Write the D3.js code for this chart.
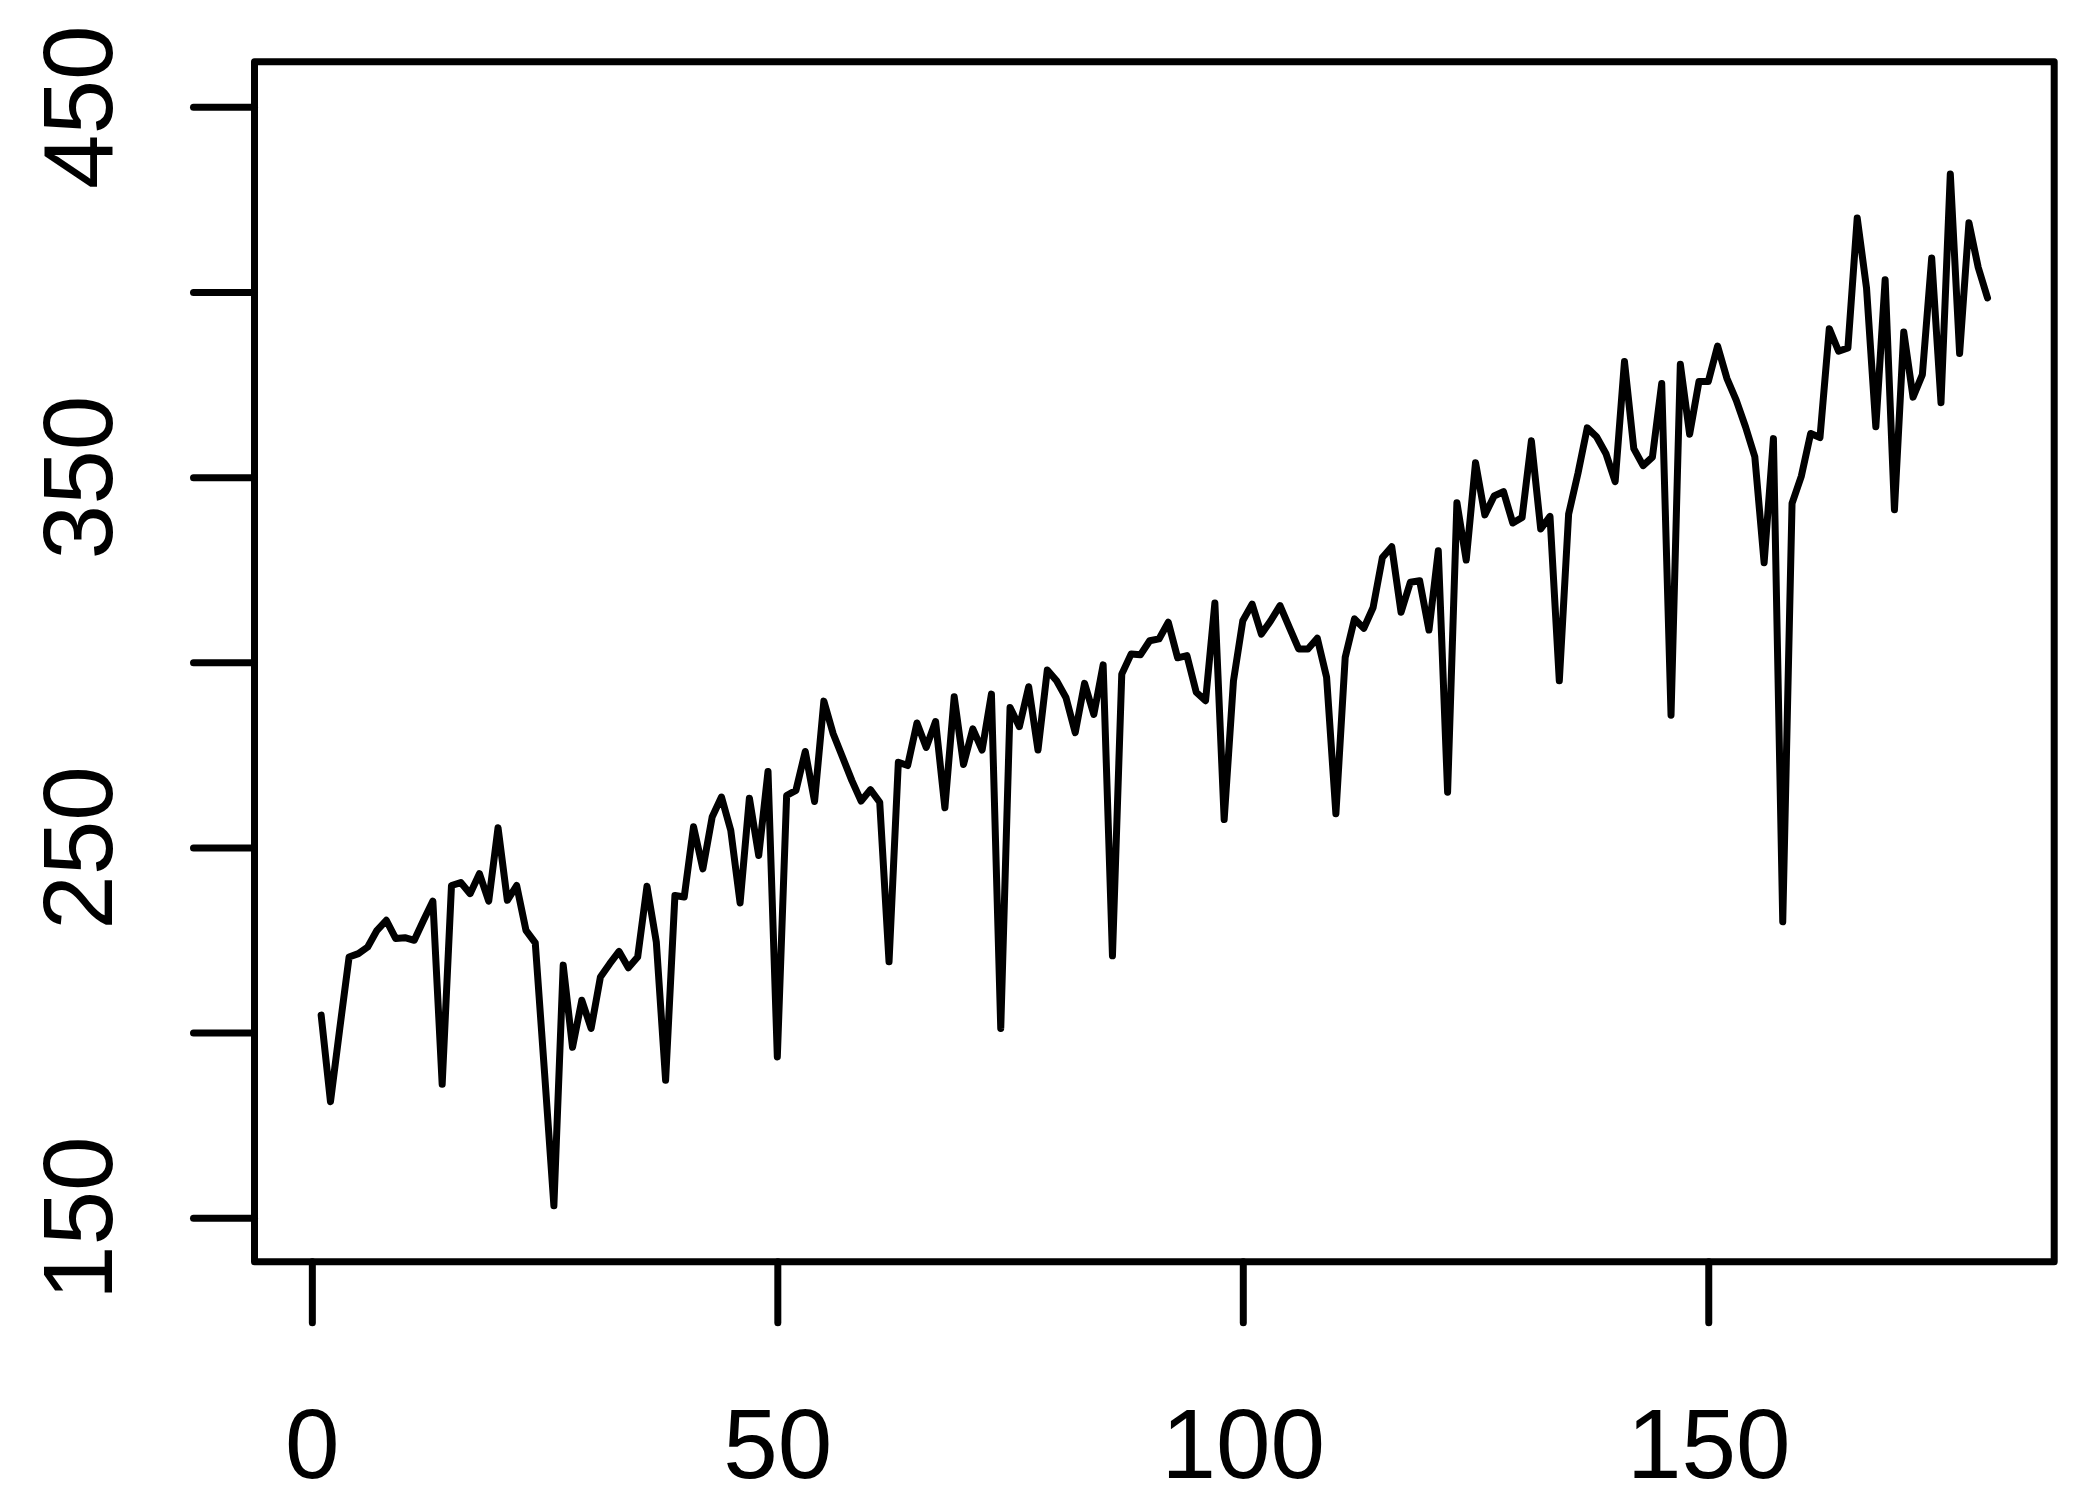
<!DOCTYPE html>
<html><head><meta charset="utf-8">
<script src="https://cdn.jsdelivr.net/npm/d3@7"></script>
<style>html,body{margin:0;padding:0;background:#fff;} svg{display:block;}</style>
</head><body>
<svg id="chart" width="2091" height="1510"></svg>
<script>
// Series values, index 1..180
const seriesValues = [
  204.7,181.3,201.1,220.4,221.3,223.1,227.6,230.3,225.4,225.6,
  224.9,230.3,235.5,186.0,239.7,240.5,237.5,242.9,235.5,255.3,
  235.7,239.7,227.6,224.2,189.0,153.2,218.2,196.0,208.7,201.1,
  215.0,218.6,221.9,217.5,220.4,239.5,224.5,187.1,237.0,236.6,
  255.6,244.2,258.2,263.6,254.6,235.0,263.3,247.8,270.5,193.4,
  264.0,265.4,275.9,262.4,289.5,280.7,274.4,268.1,262.5,265.6,
  262.2,219.1,273.0,272.1,283.6,277.0,284.0,260.7,290.7,272.4,
  282.0,276.3,291.4,201.1,287.8,282.6,293.4,276.3,297.9,295.0,
  290.5,281.0,294.3,285.9,299.3,220.7,296.8,302.2,302.0,305.8,
  306.3,310.8,301.2,301.8,291.9,289.6,316.0,257.5,295.0,311.2,
  315.7,307.6,311.2,315.3,309.4,303.6,303.6,306.5,296.0,259.1,
  301.3,311.7,309.2,314.8,328.3,331.2,313.5,321.6,322.0,308.7,
  330.1,264.9,343.1,327.6,353.9,339.8,344.9,346.1,337.6,339.1,
  359.8,336.0,339.4,295.0,340.0,351.0,363.3,360.9,356.4,348.8,
  381.2,357.7,353.1,355.4,375.3,285.7,380.5,361.6,375.8,375.8,
  385.4,376.7,370.8,363.6,355.5,326.9,360.4,229.9,342.9,350.3,
  361.8,360.7,390.1,384.0,384.9,420.0,401.1,363.6,403.3,341.2,
  389.2,371.6,377.7,409.2,370.1,431.9,383.4,418.7,406.6,398.4
];
const xTickValues = [0, 50, 100, 150];
const xTickLabels = ["0", "50", "100", "150"];
const yTickValues = [150, 200, 250, 300, 350, 400, 450];
const yTickLabels = ["150", "", "250", "", "350", "", "450"];

const svg = d3.select("#chart");
const n = seriesValues.length;
const xPad = (n - 1) * 0.04;
const x = d3.scaleLinear().domain([1 - xPad, n + xPad]).range([254.5, 2054.2]);
const y = d3.scaleLinear().domain([138.1, 462.2]).range([1261.7, 61.7]);

const lw = 7;
const font = "'Liberation Sans', Arial, Helvetica, sans-serif";

// data line
const line = d3.line().x((d, i) => x(i + 1)).y(d => y(d));
svg.append("path")
  .datum(seriesValues)
  .attr("d", line)
  .attr("fill", "none")
  .attr("stroke", "#000")
  .attr("stroke-width", lw)
  .attr("stroke-linejoin", "round")
  .attr("stroke-linecap", "round");

// box
const [bx0, bx1] = x.range();
const [by1, by0] = y.range();
svg.append("rect")
  .attr("x", bx0).attr("y", by0)
  .attr("width", bx1 - bx0).attr("height", by1 - by0)
  .attr("fill", "none").attr("stroke", "#000")
  .attr("stroke-width", lw).attr("stroke-linejoin", "round");

// x axis
const gx = svg.append("g").attr("transform", `translate(0,${by1})`)
  .call(d3.axisBottom(x).tickValues(xTickValues).tickSize(61)
    .tickFormat((d, i) => xTickLabels[i]));
gx.select(".domain").remove();
gx.selectAll(".tick line").attr("stroke", "#000").attr("stroke-width", lw).attr("stroke-linecap", "round");
gx.selectAll(".tick text")
  .attr("y", 216.5).attr("dy", null)
  .attr("fill", "#000")
  .style("font-family", font).style("font-size", "98px");

// y axis
const gy = svg.append("g").attr("transform", `translate(${bx0},0)`)
  .call(d3.axisLeft(y).tickValues(yTickValues).tickSize(61)
    .tickFormat((d, i) => yTickLabels[i]));
gy.select(".domain").remove();
gy.selectAll(".tick line").attr("stroke", "#000").attr("stroke-width", lw).attr("stroke-linecap", "round");
gy.selectAll(".tick text")
  .attr("x", null).attr("dy", null)
  .attr("text-anchor", "middle")
  .attr("transform", `translate(${112 - bx0},0) rotate(-90)`)
  .attr("fill", "#000")
  .style("font-family", font).style("font-size", "98px");
</script>
</body></html>
